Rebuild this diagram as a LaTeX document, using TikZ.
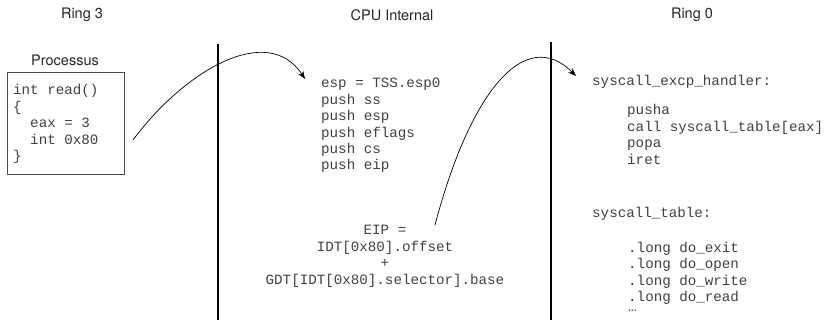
\documentclass[tikz,border=0pt]{standalone}
\usepackage{fontspec}
\setsansfont{TeX Gyre Heros}
\setmonofont{Liberation Mono}
\usetikzlibrary{arrows.meta}
\begin{document}
\begin{tikzpicture}[x=1pt,y=-1pt,
  lbl/.style={font=\sffamily\fontsize{14.5}{17}\selectfont, text=black!85, inner sep=0},
  code/.style={font=\ttfamily\fontsize{14.2}{16.4}\selectfont, text=black!75, align=left, anchor=base west, inner sep=0},
  divider/.style={line width=1.6pt},
  flow/.style={-{Stealth[length=8pt,width=6pt]}, line width=0.7pt}]
\useasboundingbox (0,0) rectangle (834,320);
% headers
\node[lbl] (r3) at (82,15) {Ring 3};
\node[lbl] (cpu) at (392,15) {CPU Internal};
\node[lbl] (r0) at (692,15) {Ring 0};
% dividers
\coordinate (d1t) at (218,44); \coordinate (d1b) at (218,320);
\coordinate (d2t) at (551,42); \coordinate (d2b) at (551,320);
\draw[divider] (d1t) -- (d1b);
\draw[divider] (d2t) -- (d2b);
% process box
\node[lbl] (proc) at (65,60) {Processus};
\node[draw=black!70, line width=0.8pt, minimum width=117pt, minimum height=102pt, anchor=north west, inner sep=0] (box) at (7,72) {};
% (multi-line nodes: base anchor = baseline of the last line)
\node[code] (pcode) at (13,160.6) {int read()\\\{\\\ \ eax = 3\\\ \ int 0x80\\\}};
% CPU internal
\node[code] (cpucode) at (321,170) {esp = TSS.esp0\\push ss\\push esp\\push eflags\\push cs\\push eip};
\node[code, align=center, anchor=base] (eip) at (385,284) {EIP =\\IDT[0x80].offset\\+\\GDT[IDT[0x80].selector].base};
% Ring 0
\node[code] (hdl) at (592,86) {syscall\_excp\_handler:};
\node[code] (hbody) at (627,164.2) {pusha\\call syscall\_table[eax]\\popa\\iret};
\node[code] (tbl) at (592,218) {syscall\_table:};
\node[code] (tbody) at (628,311) {.long do\_exit\\.long do\_open\\.long do\_write\\.long do\_read\\[-7pt]…};
% arrows
\coordinate (a1s) at (133,140);
\coordinate (a1e) at (305,79);
\draw[flow] (a1s) .. controls (185,70) and (268,22) .. (a1e);
\coordinate (a2s) at (435,225);
\coordinate (a2e) at (576,76);
\draw[flow] (a2s) .. controls (470,92) and (525,25) .. (a2e);
\end{tikzpicture}
\end{document}
